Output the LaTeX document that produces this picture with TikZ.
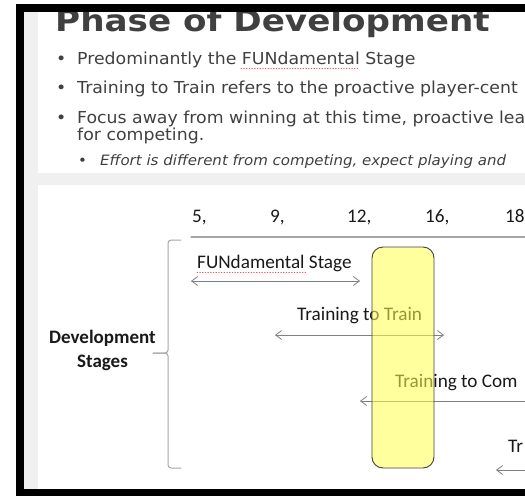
\documentclass[tikz,border=0pt]{standalone}
\usepackage{fontspec}
\setmainfont{DejaVu Sans}[FakeStretch=1.05]
\newfontfamily\titlefont{DejaVu Sans Bold}[FakeStretch=1.14]
\newfontfamily\chartfont{Carlito}
\usetikzlibrary{arrows.meta}

\definecolor{slidegray}{HTML}{404040}
\definecolor{panegray}{HTML}{F0F0F0}
\definecolor{rulegray}{HTML}{A6A6A6}
\definecolor{arrowgray}{HTML}{7F7F7F}
\definecolor{hiyellow}{HTML}{FFFF50}

\tikzset{
  bullettext/.style={anchor=base west, inner sep=0pt, text=slidegray,
    font=\fontsize{16.5}{19}\selectfont},
  subtext/.style={bullettext, font=\fontsize{14.3}{17}\selectfont\itshape},
  charttext/.style={anchor=base west, inner sep=0pt, text=black!90,
    font=\chartfont\fontsize{19.2}{22}\selectfont},
  stagearrow/.style={draw=arrowgray, line width=0.8pt,
    {Straight Barb[length=6pt,width=9pt]}-{Straight Barb[length=6pt,width=9pt]}},
  spellmark/.style={draw=red!70, line width=0.7pt, dotted},
}

\begin{document}
\begin{tikzpicture}[x=1pt, y=-1pt, line cap=round, line join=round]
  \useasboundingbox (0,0) rectangle (525,496);
  \clip (0,0) rectangle (525,496);
  \fill[white] (0,0) rectangle (525,496);
  % side strip and band between the two panes
  \fill[panegray] (24,12) rectangle (38,489);
  \fill[panegray] (38,173) rectangle (525,185);

  % slide title and bullets
  \node[anchor=base west, inner sep=0pt, text=slidegray,
    font=\titlefont\fontsize{30}{32}\selectfont] (title) at (55,31) {Phase of Development};
  \node[bullettext] (dot1) at (56,64) {•};
  \node[bullettext] (line1) at (77,64) {Predominantly the FUNdamental Stage};
  \draw[spellmark] (241,68) -- (358,68);
  \node[bullettext] (dot2) at (56,93) {•};
  \node[bullettext] (line2) at (77,93) {Training to Train refers to the proactive player-cent};
  \node[bullettext] (dot3) at (56,123) {•};
  \node[bullettext] (line3) at (77,123) {Focus away from winning at this time, proactive lea};
  \node[bullettext] (line3b) at (77,140) {for competing.};
  \node[subtext] (dot4) at (78,165) {•};
  \node[subtext] (line4) at (100,165) {Effort is different from competing, expect playing and};

  % age scale
  \foreach \age/\x in {5/192, 9/270, 12/347, 16/425}
    \node[charttext] (age\age) at (\x,222) {\age,};
  \node[charttext] (age18) at (505,222) {18};
  \coordinate (rule-l) at (191,237);
  \coordinate (rule-r) at (530,237);
  \draw[rulegray, line width=1.2pt] (rule-l) -- (rule-r);

  % brace round the stages
  \draw[rulegray, line width=1pt, rounded corners=3pt]
    (181,240) -- (168,240) -- (168,353) -- (153,353);
  \draw[rulegray, line width=1pt, rounded corners=3pt]
    (153,353) -- (168,353) -- (168,468) -- (181,468);
  \node[charttext, anchor=base, font=\chartfont\bfseries\fontsize{19}{22}\selectfont]
    (devword) at (102.5,343) {Development};
  \node[charttext, anchor=base, font=\chartfont\bfseries\fontsize{19}{22}\selectfont]
    (stagesword) at (102.5,367) {Stages};

  % stages and their spans
  \node[charttext] (fun) at (197,268) {FUNdamental Stage};
  \draw[spellmark] (197,272) -- (306,272);
  \coordinate (fun-l) at (191,281);
  \coordinate (fun-r) at (360,281);
  \draw[stagearrow] (fun-l) -- (fun-r);

  \node[charttext] (ttt) at (297,320) {Training to Train};
  \coordinate (ttt-l) at (275,335);
  \coordinate (ttt-r) at (444,335);
  \draw[stagearrow] (ttt-l) -- (ttt-r);

  \node[charttext] (ttc) at (395,387) {Training to Com};
  \coordinate (ttc-l) at (360,401);
  \coordinate (ttc-r) at (580,401);
  \draw[stagearrow] (ttc-l) -- (ttc-r);

  \node[charttext] (ttw) at (508,452) {Tr};
  \coordinate (ttw-l) at (496,470);
  \coordinate (ttw-r) at (580,470);
  \draw[stagearrow] (ttw-l) -- (ttw-r);

  % highlighted age window
  \node[draw=slidegray, line width=0.9pt, fill=hiyellow, fill opacity=0.55,
    rounded corners=11pt, minimum width=62pt, minimum height=221pt, inner sep=0pt]
    (focus) at (403,357.5) {};

  % black frame of the screenshot
  \fill[black] (16,4) rectangle (525,12);
  \fill[black] (16,4) rectangle (24,496);
  \fill[black] (16,489) rectangle (525,496);
\end{tikzpicture}
\end{document}
